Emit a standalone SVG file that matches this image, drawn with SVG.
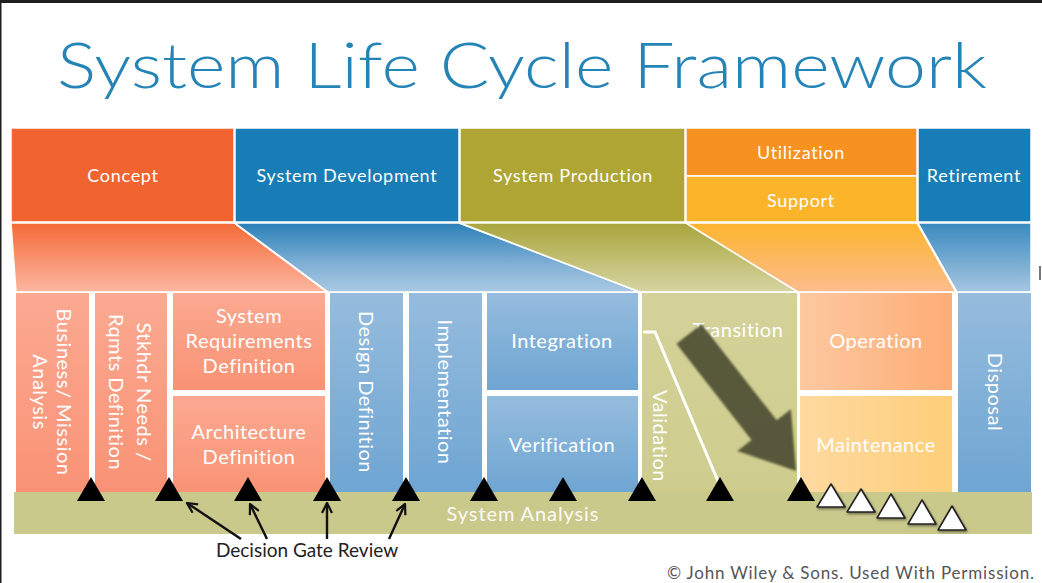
<svg xmlns="http://www.w3.org/2000/svg" width="1042" height="583" viewBox="0 0 1042 583">
  <defs>
    <linearGradient id="gConceptF" x1="0" y1="0" x2="0" y2="1">
      <stop offset="0" stop-color="#f56a38"/><stop offset="1" stop-color="#fbb7a0"/>
    </linearGradient>
    <linearGradient id="gDevF" x1="0" y1="0" x2="0" y2="1">
      <stop offset="0" stop-color="#2a80b8"/><stop offset="0.6" stop-color="#80b0d6"/><stop offset="1" stop-color="#a9c9e3"/>
    </linearGradient>
    <linearGradient id="gProdF" x1="0" y1="0" x2="0" y2="1">
      <stop offset="0" stop-color="#a9a53c"/><stop offset="1" stop-color="#d7d5a2"/>
    </linearGradient>
    <linearGradient id="gUtilF" x1="0" y1="0" x2="0" y2="1">
      <stop offset="0" stop-color="#fcb52e"/><stop offset="1" stop-color="#fdbc8e"/>
    </linearGradient>
    <linearGradient id="gRetF" x1="0" y1="0" x2="0" y2="1">
      <stop offset="0" stop-color="#3a8bc0"/><stop offset="1" stop-color="#a5c6e1"/>
    </linearGradient>
    <linearGradient id="gSalmon" x1="0" y1="0" x2="0" y2="1">
      <stop offset="0" stop-color="#fba991"/><stop offset="1" stop-color="#f99275"/>
    </linearGradient>
    <linearGradient id="gBlue" x1="0" y1="0" x2="0" y2="1">
      <stop offset="0" stop-color="#95bcdd"/><stop offset="1" stop-color="#6ea5d2"/>
    </linearGradient>
    <linearGradient id="gOlive" x1="0" y1="0" x2="0" y2="1">
      <stop offset="0" stop-color="#d4d299"/><stop offset="1" stop-color="#cecc8d"/>
    </linearGradient>
    <linearGradient id="gOper" x1="0" y1="0" x2="1" y2="0">
      <stop offset="0" stop-color="#fdc8a0"/><stop offset="1" stop-color="#fdad76"/>
    </linearGradient>
    <linearGradient id="gMaint" x1="0" y1="0" x2="1" y2="0">
      <stop offset="0" stop-color="#fed9a0"/><stop offset="1" stop-color="#fecf7a"/>
    </linearGradient>
    <filter id="soft" x="-20%" y="-20%" width="140%" height="140%">
      <feGaussianBlur stdDeviation="1.2"/>
    </filter>
    <filter id="tshadow" x="-30%" y="-30%" width="160%" height="160%">
      <feDropShadow dx="1" dy="1.5" stdDeviation="1" flood-color="#000" flood-opacity="0.45"/>
    </filter>
    <marker id="openHead" viewBox="0 0 12 12" refX="11" refY="6" markerWidth="12" markerHeight="12" markerUnits="userSpaceOnUse" orient="auto">
      <path d="M1,1 L11,6 L1,11" fill="none" stroke="#111" stroke-width="2.2"/>
    </marker>
    <style>
      .hdr { font-family: Lato, "Open Sans", sans-serif; font-size: 18px; letter-spacing: 0.7px; fill: #fff; text-anchor: middle; }
      .lbl { font-family: Lato, "Open Sans", sans-serif; font-size: 20px; letter-spacing: 0.5px; fill: #fff; text-anchor: middle; }
      .blk { stroke: #fff; stroke-width: 1.5; }
      .gate { fill: #000; }
      .open { fill: #fff; stroke: #222; stroke-width: 1.6; stroke-linejoin: round; }
    </style>
  </defs>

  <!-- page -->
  <rect x="0" y="0" width="1042" height="583" fill="#fff"/>
  <rect x="0" y="0" width="1042" height="3" fill="#1e1e1e"/>
  <rect x="0" y="0" width="1.5" height="583" fill="#1e1e1e"/>

  <text x="522" y="88" font-family="Lato, 'Open Sans', sans-serif" font-weight="300" font-size="64" fill="#2584b6" text-anchor="middle" textLength="930" lengthAdjust="spacingAndGlyphs">System Life Cycle Framework</text>

  <!-- stage headers -->
  <g id="concept">
    <rect class="blk" x="11" y="128" width="223" height="94" fill="#f2642f"/>
    <text class="hdr" x="123" y="182">Concept</text>
  </g>
  <g id="system-development">
    <rect class="blk" x="235" y="128" width="224" height="94" fill="#187db6"/>
    <text class="hdr" x="347" y="182">System Development</text>
  </g>
  <g id="system-production">
    <rect class="blk" x="460" y="128" width="225" height="94" fill="#aea535"/>
    <text class="hdr" x="573" y="182">System Production</text>
  </g>
  <g id="utilization">
    <rect class="blk" x="686" y="128" width="231" height="48" fill="#f7911f"/>
    <text class="hdr" x="801" y="159">Utilization</text>
  </g>
  <g id="support">
    <rect class="blk" x="686" y="176" width="231" height="46" fill="#fcb52b"/>
    <text class="hdr" x="801" y="207">Support</text>
  </g>
  <g id="retirement">
    <rect class="blk" x="918" y="128" width="113" height="94" fill="#187db6"/>
    <text class="hdr" x="974" y="182">Retirement</text>
  </g>

  <!-- funnels from stages down to processes -->
  <g id="funnels">
    <polygon class="blk" points="11,223 234,223 327,292 16,292" fill="url(#gConceptF)"/>
    <polygon class="blk" points="235,223 459,223 640,292 328,292" fill="url(#gDevF)"/>
    <polygon class="blk" points="460,223 686,223 798,292 640,292" fill="url(#gProdF)"/>
    <polygon class="blk" points="686,223 917,223 956,292 798,292" fill="url(#gUtilF)"/>
    <polygon class="blk" points="918,223 1031,223 1031,292 957,292" fill="url(#gRetF)"/>
  </g>

  <!-- technical processes -->
  <g id="business-mission-analysis">
    <rect x="16" y="293" width="73" height="201" fill="url(#gSalmon)"/>
    <text class="lbl" transform="translate(57,392) rotate(90)">Business/ Mission</text>
    <text class="lbl" transform="translate(33,392) rotate(90)">Analysis</text>
  </g>
  <g id="stakeholder-needs">
    <rect x="95" y="293" width="72" height="201" fill="url(#gSalmon)"/>
    <text class="lbl" transform="translate(137,392) rotate(90)">Stkhdr Needs /</text>
    <text class="lbl" transform="translate(109,392) rotate(90)">Rqmts Definition</text>
  </g>
  <g id="system-requirements">
    <rect x="173" y="293" width="152" height="97" fill="url(#gSalmon)"/>
    <text class="lbl" x="249" y="323">System</text>
    <text class="lbl" x="249" y="348">Requirements</text>
    <text class="lbl" x="249" y="373">Definition</text>
  </g>
  <g id="architecture">
    <rect x="173" y="396" width="152" height="98" fill="url(#gSalmon)"/>
    <text class="lbl" x="249" y="439">Architecture</text>
    <text class="lbl" x="249" y="464">Definition</text>
  </g>
  <g id="design-definition">
    <rect x="330" y="293" width="73" height="201" fill="url(#gBlue)"/>
    <text class="lbl" transform="translate(359,392) rotate(90)">Design Definition</text>
  </g>
  <g id="implementation">
    <rect x="409" y="293" width="73" height="201" fill="url(#gBlue)"/>
    <text class="lbl" transform="translate(438,392) rotate(90)">Implementation</text>
  </g>
  <g id="integration">
    <rect x="487" y="293" width="151" height="97" fill="url(#gBlue)"/>
    <text class="lbl" x="562" y="348">Integration</text>
  </g>
  <g id="verification">
    <rect x="487" y="396" width="151" height="98" fill="url(#gBlue)"/>
    <text class="lbl" x="562" y="452">Verification</text>
  </g>
  <g id="transition-validation">
    <rect x="642" y="293" width="155" height="201" fill="url(#gOlive)"/>
    <text class="lbl" x="738" y="337">Transition</text>
    <polyline points="643,332 655,332 720,486" fill="none" stroke="#fff" stroke-width="3"/>
    <text class="lbl" transform="translate(653,436) rotate(90)">Validation</text>
  </g>
  <g id="operation">
    <rect x="800" y="293" width="152" height="97" fill="url(#gOper)"/>
    <text class="lbl" x="876" y="348">Operation</text>
  </g>
  <g id="maintenance">
    <rect x="800" y="396" width="152" height="98" fill="url(#gMaint)"/>
    <text class="lbl" x="876" y="452">Maintenance</text>
  </g>
  <g id="disposal">
    <rect x="958" y="293" width="73" height="201" fill="url(#gBlue)"/>
    <text class="lbl" transform="translate(988,392) rotate(90)">Disposal</text>
  </g>
  <rect x="1039" y="266" width="2" height="14" fill="#777"/>

  <!-- transition arrow into operation -->
  <g id="transition-arrow" filter="url(#soft)" opacity="0.93">
    <polygon transform="translate(689,334) rotate(52)" points="0,-16 122,-16 122,-34 174,0 122,34 122,16 0,16" fill="#505036"/>
  </g>

  <!-- system analysis bar -->
  <g id="system-analysis">
    <rect x="14" y="492" width="1018" height="42" fill="#cac98c"/>
    <text class="lbl" x="523" y="521" style="letter-spacing:0.9px" fill-opacity="0.95">System Analysis</text>
  </g>

  <!-- decision gates -->
  <g id="gates">
    <polygon class="gate" points="91,477 105,501 77,501"/>
    <polygon class="gate" points="169,477 183,501 155,501"/>
    <polygon class="gate" points="248,477 262,501 234,501"/>
    <polygon class="gate" points="327,477 341,501 313,501"/>
    <polygon class="gate" points="406,477 420,501 392,501"/>
    <polygon class="gate" points="484,477 498,501 470,501"/>
    <polygon class="gate" points="563,477 577,501 549,501"/>
    <polygon class="gate" points="642,477 656,501 628,501"/>
    <polygon class="gate" points="720,477 734,501 706,501"/>
    <polygon class="gate" points="801,477 815,501 787,501"/>
  </g>
  <g id="open-gates" filter="url(#tshadow)">
    <polygon class="open" points="831,484 845,507 817,507"/>
    <polygon class="open" points="861,489 875,512 847,512"/>
    <polygon class="open" points="891,494 905,518 877,518"/>
    <polygon class="open" points="922,500 936,524 908,524"/>
    <polygon class="open" points="952,506 966,530 938,530"/>
  </g>

  <!-- decision gate review callouts -->
  <g id="connectors" stroke="#111" stroke-width="2.4" fill="none" marker-end="url(#openHead)">
    <line x1="241" y1="539" x2="187" y2="503"/>
    <line x1="267" y1="539" x2="250" y2="504"/>
    <line x1="327" y1="539" x2="327" y2="503"/>
    <line x1="389" y1="539" x2="405" y2="504"/>
  </g>
  <text x="307" y="557" font-family="Lato, 'Open Sans', sans-serif" font-size="19" fill="#222" text-anchor="middle">Decision Gate Review</text>

  <text x="1034" y="579" font-family="Lato, 'Open Sans', sans-serif" font-size="17" fill="#555" text-anchor="end" textLength="367" lengthAdjust="spacing">© John Wiley &amp; Sons. Used With Permission.</text>
</svg>
